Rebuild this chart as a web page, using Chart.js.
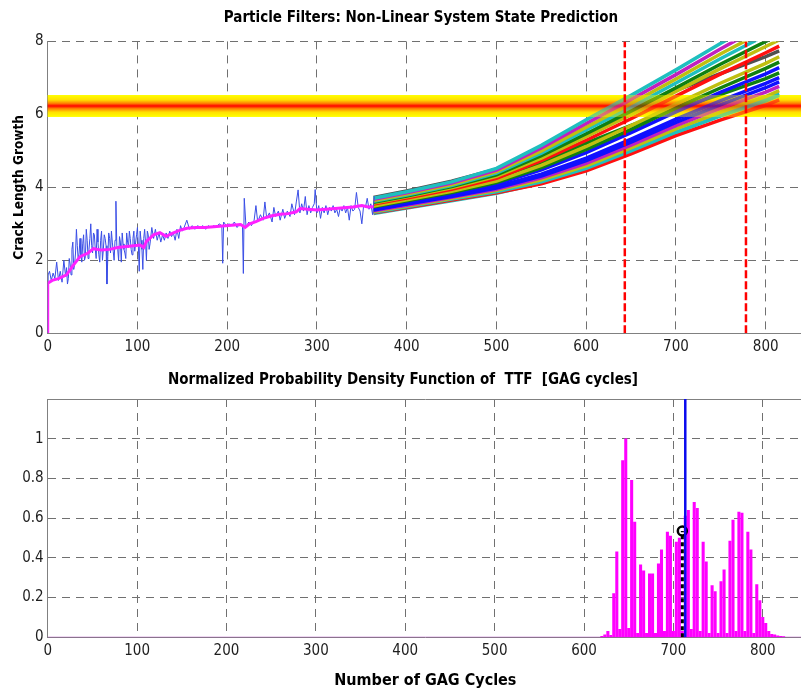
<!DOCTYPE html>
<html>
<head>
<meta charset="utf-8">
<script src="https://cdn.jsdelivr.net/npm/chart.js@4/dist/chart.umd.min.js"></script>
<style>
  html, body { margin: 0; padding: 0; overflow: hidden; background: #fff; width: 801px; height: 691px; }
  #top { position: absolute; left: 0; top: 0; }
  #bottom { position: absolute; left: 0; top: 360px; }
</style>
</head>
<body>
<canvas id="top" width="842" height="360"></canvas>
<canvas id="bottom" width="810" height="331"></canvas>
<script>
// measured crack length (noisy) and its filtered estimate, [cycle, length]
const crackMeasured = [[0,0],[0.5,1.6],[2,1.7],[4,1.45],[6,1.65],[8,1.5],[10,1.95],[12,1.45],[14,1.7],[16,1.4],[18,2.0],[20,1.55],[21,1.8],[22,1.35],[23,1.5],[24,2.05],[25,1.9],[26,1.6],[27,2.3],[28,2.5],[29,1.75],[30,1.9],[31,2.2],[32,2.85],[33,2.4],[34,2.0],[35,2.2],[36,2.6],[37,2.15],[38,1.95],[39,2.45],[40,2.7],[41,2.0],[42,2.1],[43,2.85],[44,2.55],[45,2.05],[46,2.3],[47,2.6],[48,3.0],[49,2.4],[50,2.2],[51,2.75],[52,2.7],[53,2.3],[54,2.05],[55,2.85],[56,2.5],[57,2.15],[58,1.95],[59,2.55],[60,2.8],[61,2.0],[62,2.3],[63,2.7],[64,2.6],[65,2.4],[66,1.35],[67,2.1],[68,2.75],[69,2.6],[70,2.2],[71,2.8],[72,2.5],[73,2.25],[74,2.0],[75,2.55],[76,3.62],[77,2.4],[78,2.3],[79,2.0],[80,2.65],[81,2.5],[82,1.95],[83,2.75],[84,2.45],[85,2.3],[86,2.2],[87,2.05],[88,2.75],[89,2.5],[90,2.35],[91,2.8],[92,2.6],[93,2.3],[94,2.15],[95,2.6],[96,2.8],[97,2.25],[98,2.5],[99,2.7],[100,2.9],[101,2.4],[102,1.7],[103,2.8],[104,2.55],[105,2.3],[106,1.75],[107,2.6],[108,2.85],[109,2.5],[110,2.0],[111,2.8],[112,2.7],[113,2.3],[114,2.45],[116,2.9],[118,2.6],[120,2.85],[122,2.55],[124,2.75],[126,2.5],[128,2.7],[130,2.55],[132,2.75],[134,2.6],[136,2.8],[138,2.65],[140,2.75],[142,2.55],[144,2.85],[146,2.6],[148,2.95],[150,2.8],[152,2.9],[155,3.1],[158,2.85],[161,2.95],[164,2.85],[167,2.95],[170,2.9],[173,2.95],[176,2.85],[179,2.95],[182,2.9],[185,2.95],[188,2.9],[191,3.0],[194,2.95],[195,1.92],[196,3.05],[199,2.95],[202,3.0],[205,2.95],[208,3.05],[211,2.9],[214,3.0],[217,2.95],[218,1.64],[219,3.7],[221,2.9],[224,3.05],[227,2.95],[230,3.1],[232,3.5],[234,3.05],[237,3.25],[240,3.1],[242,3.6],[244,3.15],[247,3.3],[250,3.05],[252,3.45],[254,3.2],[257,3.35],[259,3.1],[262,3.4],[264,3.15],[267,3.35],[270,3.2],[272,3.55],[275,3.25],[277,3.6],[279,3.93],[281,3.3],[283,3.55],[285,3.35],[287,3.75],[289,3.25],[291,3.5],[293,3.3],[295,3.45],[297,3.55],[298,3.94],[300,3.3],[302,3.5],[304,3.15],[306,3.45],[308,3.3],[310,3.5],[312,3.25],[314,3.45],[316,3.35],[318,3.5],[320,3.3],[322,3.4],[324,3.2],[326,3.45],[328,3.35],[330,3.5],[332,3.3],[334,3.45],[336,3.1],[338,3.5],[340,3.35],[342,3.4],[344,3.86],[346,3.45],[348,3.35],[350,3.0],[352,3.5],[354,3.45],[356,3.7],[358,3.4],[360,3.55],[362,3.25],[364,3.75]];

const crackFiltered = [[0,0],[0,1.37],[5,1.45],[12,1.5],[21,1.6],[28,1.85],[36,2.1],[45,2.2],[51,2.32],[60,2.28],[69,2.3],[78,2.35],[88,2.38],[96,2.4],[103,2.42],[107,2.35],[110,2.52],[118,2.7],[125,2.76],[132,2.66],[140,2.75],[147,2.82],[155,2.88],[165,2.9],[175,2.9],[185,2.92],[195,2.94],[205,2.96],[215,2.98],[220,2.9],[225,3.0],[232,3.06],[240,3.15],[250,3.22],[259,3.26],[268,3.28],[277,3.33],[281,3.42],[290,3.4],[300,3.38],[310,3.4],[320,3.42],[330,3.44],[340,3.46],[350,3.5],[357,3.46],[363,3.47]];

// particle trajectories, sampled at predCycles
const predCycles = [363, 400, 450, 500, 550, 600, 650, 700, 750, 800, 815];
const particlePaths = [
  [3.70, 3.88, 4.15, 4.52, 5.15, 5.85, 6.52, 7.22, 7.95, 8.65, 8.85],
  [3.67, 3.85, 4.12, 4.47, 5.08, 5.75, 6.41, 7.09, 7.80, 8.48, 8.68],
  [3.64, 3.82, 4.08, 4.43, 5.00, 5.65, 6.30, 6.97, 7.66, 8.31, 8.51],
  [3.62, 3.79, 4.05, 4.39, 4.94, 5.57, 6.20, 6.86, 7.53, 8.17, 8.36],
  [3.59, 3.76, 4.02, 4.34, 4.87, 5.47, 6.09, 6.73, 7.38, 8.00, 8.19],
  [3.57, 3.74, 3.99, 4.30, 4.80, 5.39, 5.99, 6.63, 7.26, 7.86, 8.04],
  [3.54, 3.71, 3.95, 4.25, 4.73, 5.29, 5.88, 6.50, 7.11, 7.69, 7.87],
  [3.72, 3.90, 4.17, 4.50, 5.03, 5.62, 6.15, 6.66, 7.12, 7.58, 7.74],
  [3.49, 3.66, 3.89, 4.17, 4.60, 5.12, 5.69, 6.28, 6.86, 7.40, 7.58],
  [3.47, 3.63, 3.86, 4.13, 4.54, 5.04, 5.59, 6.18, 6.73, 7.26, 7.43],
  [3.44, 3.60, 3.83, 4.09, 4.48, 4.95, 5.50, 6.07, 6.61, 7.11, 7.28],
  [3.52, 3.68, 3.92, 4.21, 4.67, 5.21, 5.70, 6.15, 6.55, 6.98, 7.14],
  [3.40, 3.56, 3.78, 4.02, 4.36, 4.80, 5.32, 5.87, 6.38, 6.85, 7.01],
  [3.38, 3.54, 3.75, 3.98, 4.31, 4.73, 5.24, 5.78, 6.27, 6.73, 6.89],
  [3.36, 3.51, 3.73, 3.95, 4.26, 4.66, 5.16, 5.69, 6.17, 6.61, 6.77],
  [3.34, 3.49, 3.70, 3.92, 4.21, 4.59, 5.08, 5.60, 6.06, 6.49, 6.65],
  [3.32, 3.47, 3.68, 3.88, 4.15, 4.52, 5.00, 5.51, 5.96, 6.37, 6.52],
  [3.30, 3.45, 3.65, 3.85, 4.10, 4.45, 4.92, 5.42, 5.85, 6.25, 6.40],
  [3.28, 3.43, 3.63, 3.84, 4.12, 4.48, 4.98, 5.50, 5.98, 6.42, 6.57]
];
const particleColors = ['#1fbfbf', '#c020c0', '#bfbf10', '#1fbfbf', '#108010', '#bfbf10', '#ff1010', '#505050', '#bfbf10', '#108010', '#1010ff', '#108010', '#1010ff', '#1010ff', '#c020c0', '#bfbf10', '#1fbfbf', '#ff1010', '#1fbfbf'];

const thresholdBand = [5.93, 6.53];   // failure threshold zone
const rulBounds = [643, 778];         // red dashed bounds

// TTF histogram
const ttfBins = [620, 623.3, 626.7, 630, 633.3, 636.7, 640, 643.3, 646.7, 650, 653.3, 656.7, 660, 663.3, 666.7, 670, 673.3, 676.7, 680, 683.3, 686.7, 690, 693.3, 696.7, 700, 703.3, 706.7, 710, 713.3, 716.7, 720, 723.3, 726.7, 730, 733.3, 736.7, 740, 743.3, 746.7, 750, 753.3, 756.7, 760, 763.3, 766.7, 770, 773.3, 776.7, 780, 783.3, 786.7, 790, 793.3, 796.7, 800, 803.3, 806.7, 810, 813.3, 816.7, 820, 823.3];
const ttfDensity = [0.005, 0.012, 0.03, 0.01, 0.22, 0.43, 0.04, 0.89, 1.0, 0.045, 0.79, 0.58, 0.02, 0.365, 0.335, 0.02, 0.32, 0.32, 0.02, 0.37, 0.44, 0.03, 0.53, 0.51, 0.03, 0.48, 0.50, 0.03, 0.61, 0.64, 0.04, 0.68, 0.65, 0.03, 0.48, 0.38, 0.02, 0.26, 0.23, 0.02, 0.28, 0.34, 0.02, 0.485, 0.59, 0.03, 0.63, 0.625, 0.03, 0.53, 0.44, 0.02, 0.265, 0.185, 0.10, 0.07, 0.03, 0.015, 0.012, 0.008, 0.005, 0.003];
const medianTTF = [710, 0.535];
const actualTTF = 713.3;

const FONT = "'Liberation Sans Narrow', 'Arial Narrow', 'DejaVu Sans Condensed', 'Liberation Sans', sans-serif";
const GRID = '#707070';
const AXIS = '#808080';
const DASH = [8, 6];

Chart.defaults.font.family = FONT;
Chart.defaults.font.size = 15;
Chart.defaults.color = '#1e1e1e';
Chart.defaults.animation = false;

const toPts = arr => arr.map(p => ({ x: p[0], y: p[1] }));

const drawBand = (chart, alpha) => {
  const { ctx, chartArea: a, scales: { y } } = chart;
  const top = y.getPixelForValue(thresholdBand[1]);
  const bot = y.getPixelForValue(thresholdBand[0]);
  const g = ctx.createLinearGradient(0, top, 0, bot);
  g.addColorStop(0, '#ffff00');
  g.addColorStop(0.22, '#ffe000');
  g.addColorStop(0.38, '#ff8000');
  g.addColorStop(0.5, '#ff0000');
  g.addColorStop(0.62, '#ff8000');
  g.addColorStop(0.78, '#ffe000');
  g.addColorStop(1, '#ffff00');
  ctx.save();
  ctx.globalAlpha = alpha;
  ctx.fillStyle = g;
  ctx.fillRect(a.left, top, a.right - a.left, bot - top);
  ctx.restore();
};

const PARTICLE_START = 3;
const bandPlugin = {
  id: 'band',
  beforeDatasetsDraw(chart) { drawBand(chart, 1); },
  afterDatasetDraw(chart, args) {
    if (args.index === PARTICLE_START) drawBand(chart, 0.4);
  }
};

const topDatasets = [
  ...rulBounds.map(x => ({
    data: [{ x, y: 0 }, { x, y: 8 }],
    borderColor: '#ff0000', borderWidth: 2.5, borderDash: [8, 3], order: 0
  })),
  { data: toPts(crackFiltered), borderColor: '#ff20ff', borderWidth: 3, order: 1 },
  ...particlePaths.map((vals, i) => ({
    data: vals.map((v, j) => ({ x: predCycles[j], y: v })),
    borderColor: particleColors[i], borderWidth: 3.5, order: 10
  })),
  { data: toPts(crackMeasured), borderColor: '#3a4ee6', borderWidth: 1, order: 2 }
];
topDatasets.forEach(d => { d.pointRadius = 0; d.tension = 0; d.fill = false; });

new Chart(document.getElementById('top'), {
  type: 'line',
  data: { datasets: topDatasets },
  options: {
    responsive: false,
    layout: { padding: 0 },
    plugins: {
      legend: { display: false },
      tooltip: { enabled: false },
      title: {
        display: true,
        text: 'Particle Filters: Non-Linear System State Prediction',
        color: '#000',
        font: { size: 15, weight: 'bold', lineHeight: 1.36 },
        padding: { top: 8, bottom: 13 }
      }
    },
    scales: {
      x: {
        type: 'linear', min: 0, max: 885,
        ticks: { stepSize: 100, includeBounds: false, padding: 5, maxRotation: 0 },
        grid: { color: GRID, drawTicks: false },
        border: { color: AXIS, dash: DASH },
        afterFit(s) { s.height = 26.7; }
      },
      y: {
        min: 0, max: 8,
        ticks: { stepSize: 2, padding: 4 },
        grid: { color: GRID, drawTicks: false },
        border: { color: AXIS, dash: DASH },
        title: { display: true, text: 'Crack Length Growth', color: '#000', font: { size: 13.5, weight: 'bold' }, padding: { top: 11, bottom: 0 } },
        afterFit(s) { s.width = 47.7; }
      }
    }
  },
  plugins: [bandPlugin]
});

new Chart(document.getElementById('bottom'), {
  type: 'bar',
  data: {
    datasets: [
      {
        type: 'line', data: [{ x: actualTTF, y: 0 }, { x: actualTTF, y: 1.25 }],
        borderColor: '#0a0aee', borderWidth: 2.5, pointRadius: 0, order: 0
      },
      {
        type: 'line', data: [{ x: medianTTF[0], y: 0 }, { x: medianTTF[0], y: medianTTF[1] }],
        borderColor: '#000', borderWidth: 3, borderDash: [4, 3], pointRadius: 0, order: 1
      },
      {
        type: 'line', data: [{ x: medianTTF[0], y: medianTTF[1] }],
        showLine: false, pointRadius: 4.5, pointBorderWidth: 2.5,
        pointBorderColor: '#000', pointBackgroundColor: 'rgba(0,0,0,0)', order: 1
      },
      {
        type: 'line', data: [{ x: 0, y: 0 }, { x: 845, y: 0 }],
        borderColor: '#b040c0', borderWidth: 1, pointRadius: 0, order: 3
      },
      {
        data: ttfBins.map((x, i) => ({ x, y: ttfDensity[i] })),
        backgroundColor: '#ff00ff', borderWidth: 0, barThickness: 2.4, order: 2
      }
    ]
  },
  options: {
    responsive: false,
    layout: { padding: { left: 0, right: 4, top: 0, bottom: 0 } },
    plugins: {
      legend: { display: false },
      tooltip: { enabled: false },
      title: {
        display: true,
        text: 'Normalized Probability Density Function of  TTF  [GAG cycles]',
        color: '#000',
        font: { size: 15, weight: 'bold', lineHeight: 1.36 },
        padding: { top: 10, bottom: 8.6 }
      }
    },
    scales: {
      x: {
        type: 'linear', min: 0, max: 845, offset: false,
        ticks: { stepSize: 100, includeBounds: false, padding: 5, maxRotation: 0 },
        grid: { color: GRID, drawTicks: false, offset: false },
        border: { color: AXIS, dash: DASH },
        title: { display: true, text: 'Number of GAG Cycles', color: '#000', font: { size: 16, weight: 'bold' }, padding: { top: 0, bottom: 1 } },
        afterFit(s) { s.height = 53.7; }
      },
      x2: {
        type: 'linear', position: 'top', min: 0, max: 845,
        ticks: { display: false },
        grid: { display: false, drawTicks: false },
        border: { display: true, color: AXIS },
        afterFit(s) { s.height = 0; }
      },
      y: {
        min: 0, max: 1.2,
        ticks: { stepSize: 0.2, padding: 4, callback: v => (v > 1.1 ? '' : String(Math.round(v * 10) / 10)) },
        grid: { color: ctx => (ctx.tick && ctx.tick.value > 1.1 ? 'rgba(0,0,0,0)' : GRID), drawTicks: false },
        border: { color: AXIS, dash: DASH },
        afterFit(s) { s.width = 47.7; }
      }
    }
  }
});
</script>
</body>
</html>
